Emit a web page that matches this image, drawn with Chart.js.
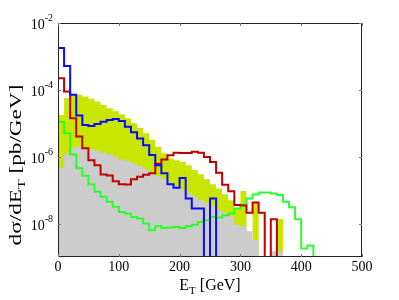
<!DOCTYPE html>
<html>
<head>
<meta charset="utf-8">
<script src="https://cdn.jsdelivr.net/npm/chart.js@4.4.0/dist/chart.umd.min.js"></script>
<style>
  html, body { margin: 0; padding: 0; background: #fff; }
</style>
</head>
<body>
<canvas id="c" width="399" height="300"></canvas>
<script>
// histogram bins of 10 GeV starting at 0 GeV; 0 = empty bin
const binWidth = 10;

const blueVals = [1.8e-3, 5.2e-4, 7.1e-5, 1.7e-5, 8.9e-6, 8.3e-6, 9.5e-6, 1.12e-5, 1.26e-5, 1.35e-5,
  1.17e-5, 7.9e-6, 5.4e-6, 3.5e-6, 2.2e-6, 1.12e-6, 5.6e-7, 3.2e-7, 1.5e-7, 1.17e-7,
  2.3e-7, 5.6e-8, 2.8e-8, 2.8e-8, 0, 5.6e-8];

const redVals = [2.24e-4, 8.9e-5, 1.41e-5, 4.0e-6, 1.78e-6, 7.9e-7, 5.6e-7, 2.95e-7, 2.75e-7, 1.86e-7,
  1.51e-7, 1.48e-7, 2.1e-7, 2.5e-7, 2.9e-7, 3.2e-7, 6.2e-7, 8.3e-7, 1.1e-6, 1.32e-6,
  1.29e-6, 1.29e-6, 1.41e-6, 1.32e-6, 9.8e-7, 6.9e-7, 3.3e-7, 1.45e-7, 9.3e-8, 3.6e-8,
  3.5e-8, 2.1e-8, 4.3e-8, 2.1e-8, 0, 1.35e-8];

const greenVals = [1.12e-5, 5.0e-6, 1.17e-6, 4.5e-7, 2.7e-7, 1.48e-7, 8.9e-8, 6.3e-8, 4.5e-8, 3.2e-8,
  2.2e-8, 2.0e-8, 1.58e-8, 1.41e-8, 1.0e-8, 6.3e-9, 8.5e-9, 7.4e-9, 7.6e-9, 7.9e-9,
  7.4e-9, 8.3e-9, 9.3e-9, 1.12e-8, 1.26e-8, 1.58e-8, 1.51e-8, 1.78e-8, 2.0e-8, 2.8e-8,
  3.7e-8, 5.6e-8, 7.4e-8, 8.5e-8, 8.5e-8, 7.9e-8, 7.2e-8, 4.5e-8, 3.1e-8, 1.35e-8,
  1.8e-9, 2.2e-9];

const greyVals = [4.7e-7, 1.23e-6, 1.86e-6, 2.0e-6, 1.86e-6, 1.66e-6, 1.48e-6, 1.32e-6, 1.17e-6, 1.0e-6,
  8.3e-7, 7.4e-7, 6.2e-7, 5.2e-7, 4.2e-7, 3.3e-7, 2.6e-7, 2.1e-7, 1.66e-7, 1.32e-7,
  1.05e-7, 8.3e-8, 6.6e-8, 5.2e-8, 4.2e-8, 3.3e-8, 2.6e-8, 2.1e-8, 1.66e-8, 9.3e-9,
  8.3e-9, 5.9e-9, 3.2e-9, 0, 0, 1.48e-9, 1.48e-9];

const yellowVals = [1.78e-5, 5.6e-5, 7.6e-5, 7.1e-5, 6.3e-5, 5.4e-5, 4.5e-5, 3.5e-5, 2.8e-5, 2.3e-5,
  1.86e-5, 1.41e-5, 1.0e-5, 7.2e-6, 5.0e-6, 3.2e-6, 2.0e-6, 1.26e-6, 8.9e-7, 7.9e-7,
  7.1e-7, 5.6e-7, 4.0e-7, 3.0e-7, 2.1e-7, 1.51e-7, 1.12e-7, 7.6e-8, 5.0e-8, 2.8e-8,
  9.5e-8, 0, 4.5e-8, 0, 0, 0, 1.38e-8];

const xTicks = [0, 100, 200, 300, 400, 500];
const yTickExps = [-2, -4, -6, -8];
const xMin = 0, xMax = 500, yMin = 1e-9, yMax = 1e-2;

const floorVal = 1e-13; // empty bins drop below the axis

function steps(vals) {
  const pts = vals.map((v, i) => ({ x: i * binWidth, y: v > 0 ? v : floorVal }));
  pts.push({ x: vals.length * binWidth, y: floorVal });
  return pts;
}

const serif = '"Liberation Serif", "DejaVu Serif", serif';

function drawRun(ctx, parts, cx, baseY) {
  let total = 0;
  parts.forEach(p => { ctx.font = p[1] + 'px ' + serif; total += ctx.measureText(p[0]).width; });
  let x = cx - total / 2;
  ctx.textAlign = 'left';
  ctx.textBaseline = 'alphabetic';
  parts.forEach(p => {
    ctx.font = p[1] + 'px ' + serif;
    ctx.fillText(p[0], x, baseY + p[2]);
    x += ctx.measureText(p[0]).width;
  });
}

const axesPlugin = {
  id: 'matlabAxes',
  afterDraw(chart) {
    const ctx = chart.ctx;
    const { left, right, top, bottom } = chart.chartArea;
    const xs = chart.scales.x, ys = chart.scales.y;
    ctx.save();

    // frame
    ctx.strokeStyle = '#222';
    ctx.lineWidth = 1;
    ctx.strokeRect(left + 0.5, top + 0.5, right - left - 1, bottom - top - 1);

    // inward ticks
    ctx.strokeStyle = '#777';
    ctx.beginPath();
    xTicks.forEach(v => {
      const px = Math.round(xs.getPixelForValue(v)) + 0.5;
      ctx.moveTo(px, bottom); ctx.lineTo(px, bottom - 3);
      ctx.moveTo(px, top); ctx.lineTo(px, top + 3);
    });
    yTickExps.forEach(e => {
      const py = Math.round(ys.getPixelForValue(Math.pow(10, e))) + 0.5;
      ctx.moveTo(left, py); ctx.lineTo(left + 3, py);
      ctx.moveTo(right, py); ctx.lineTo(right - 3, py);
    });
    ctx.stroke();

    ctx.fillStyle = '#000';
    // x tick labels
    ctx.font = '14px ' + serif;
    ctx.textAlign = 'center';
    ctx.textBaseline = 'alphabetic';
    xTicks.forEach(v => {
      ctx.fillText(String(v), xs.getPixelForValue(v), 271);
    });

    // y tick labels 10^e
    ctx.textAlign = 'left';
    yTickExps.forEach(e => {
      const py = ys.getPixelForValue(Math.pow(10, e));
      ctx.font = '14px ' + serif;
      const wb = ctx.measureText('10').width;
      ctx.font = '10px ' + serif;
      const sup = String(e);
      const ws = ctx.measureText(sup).width;
      const x0 = 53 - wb - ws;
      ctx.font = '14px ' + serif;
      ctx.fillText('10', x0, py + 6);
      ctx.font = '10px ' + serif;
      ctx.fillText(sup, x0 + wb, py - 2);
    });

    // x title: E_T [GeV]
    drawRun(ctx, [['E', 16, 0], ['T', 11, 4], [' [GeV]', 16, 0]], (left + right) / 2, 290);

    // y title: dσ/dE_T [pb/GeV], drawn stretched along its length like the original
    ctx.save();
    ctx.translate(21, 165);
    ctx.rotate(-Math.PI / 2);
    ctx.scale(1.45, 1);
    drawRun(ctx, [['d\u03c3/dE', 16, 0], ['T', 11, 4], [' [pb/GeV]', 16, 0]], 0, 0);
    ctx.restore();

    ctx.restore();
  }
};

const lineStyle = { pointRadius: 0, borderWidth: 2, stepped: true, fill: false, tension: 0 };

new Chart(document.getElementById('c'), {
  type: 'line',
  data: {
    datasets: [
      { label: 'blue', data: steps(blueVals), borderColor: '#0a0aff', ...lineStyle },
      { label: 'red', data: steps(redVals), borderColor: '#bf0000', ...lineStyle },
      { label: 'green', data: steps(greenVals), borderColor: '#2bff2b', ...lineStyle },
      { label: 'grey', data: steps(greyVals), borderWidth: 0, borderColor: 'rgba(0,0,0,0)',
        backgroundColor: '#cccccc', fill: 'start', pointRadius: 0, stepped: true },
      { label: 'yellow', data: steps(yellowVals), borderWidth: 0, borderColor: 'rgba(0,0,0,0)',
        backgroundColor: '#c8e600', fill: 'start', pointRadius: 0, stepped: true }
    ]
  },
  options: {
    responsive: false,
    animation: false,
    layout: { padding: { left: 58, top: 23, right: 37, bottom: 43 } },
    plugins: { legend: { display: false }, tooltip: { enabled: false } },
    scales: {
      x: { type: 'linear', min: xMin, max: xMax, display: false },
      y: { type: 'logarithmic', min: yMin, max: yMax, display: false }
    }
  },
  plugins: [axesPlugin]
});
</script>
</body>
</html>
